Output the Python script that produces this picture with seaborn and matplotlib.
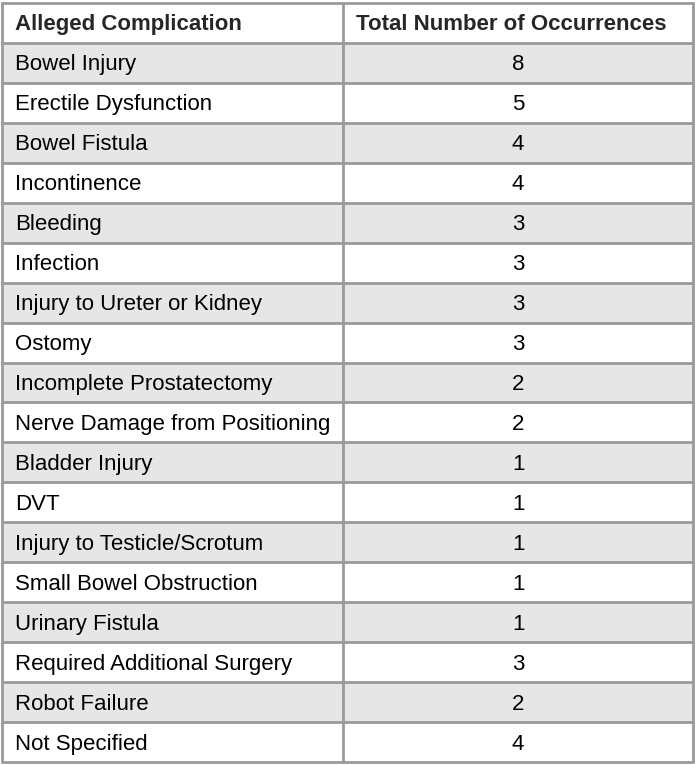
import matplotlib
matplotlib.use("Agg")
import matplotlib.pyplot as plt
from matplotlib.colors import ListedColormap
import seaborn as sns
import numpy as np
import pandas as pd

# table contents
header = ["Alleged Complication", "Total Number of Occurrences"]
complications = [
    "Bowel Injury", "Erectile Dysfunction", "Bowel Fistula", "Incontinence",
    "Bleeding", "Infection", "Injury to Ureter or Kidney", "Ostomy",
    "Incomplete Prostatectomy", "Nerve Damage from Positioning",
    "Bladder Injury", "DVT", "Injury to Testicle/Scrotum",
    "Small Bowel Obstruction", "Urinary Fistula",
    "Required Additional Surgery", "Robot Failure", "Not Specified",
]
occurrences = [8, 5, 4, 4, 3, 3, 3, 3, 2, 2, 1, 1, 1, 1, 1, 3, 2, 4]

sns.set_theme(style="white")
plt.rcParams["font.family"] = ["Liberation Sans", "DejaVu Sans"]

n_rows = len(complications) + 1
# stripe pattern: header white, then shaded / white alternating
stripe = np.array([[0, 0]] + [[1 - (i % 2)] * 2 for i in range(len(complications))])
df = pd.DataFrame(stripe, columns=header)

fig = plt.figure(figsize=(6.95, 7.65), dpi=100)
ax = fig.add_axes([2 / 695, 3 / 765, 691 / 695, 759 / 765])
sns.heatmap(df, ax=ax, cmap=ListedColormap(["white", "#e6e6e6"]), cbar=False,
            linewidths=0, xticklabels=False, yticklabels=False, vmin=0, vmax=1)

ax.set_xlim(0, 2)
ax.set_ylim(n_rows, 0)

split = 341 / 691 * 2
line_kw = dict(color="#9a9a9a", lw=2, clip_on=False)
for r in range(n_rows + 1):
    ax.axhline(r, **line_kw)
ax.axvline(0, **line_kw)
ax.axvline(split, **line_kw)
ax.axvline(2, **line_kw)

pad = 13 / 691 * 2
mid2 = (split + 2) / 2
fs = 16
dy = 0.55
ax.text(pad, dy, header[0], fontsize=fs, fontweight="bold", va="center", ha="left")
ax.text(split + pad, dy, header[1], fontsize=fs, fontweight="bold", va="center", ha="left")
for i, (name, val) in enumerate(zip(complications, occurrences)):
    y = i + 1 + dy
    ax.text(pad, y, name, fontsize=fs, va="center", ha="left", color="black")
    ax.text(mid2, y, str(val), fontsize=fs, va="center", ha="center", color="black")

ax.set_xlabel("")
ax.set_ylabel("")
for s in ax.spines.values():
    s.set_visible(False)

fig.savefig("out.png", dpi=100)
